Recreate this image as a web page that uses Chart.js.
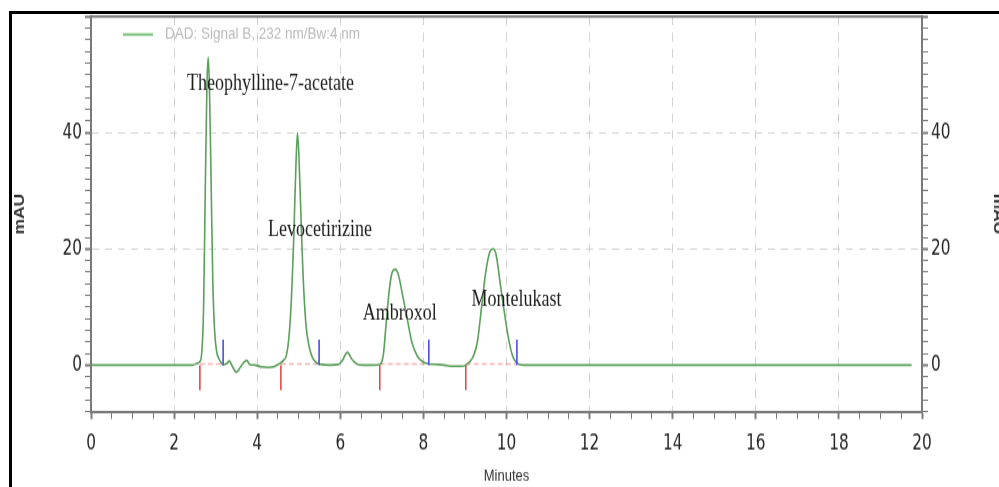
<!DOCTYPE html>
<html>
<head>
<meta charset="utf-8">
<script src="https://cdn.jsdelivr.net/npm/chart.js@4.4.1/dist/chart.umd.min.js"></script>
<style>
html,body{margin:0;padding:0;background:#fff;overflow:hidden;width:999px;height:487px;}
#frame{position:absolute;left:9px;top:11px;width:2000px;height:1000px;border-left:3px solid #000;border-top:3px solid #000;}
#wrap{position:absolute;left:0;top:0;width:1010px;height:390px;transform:scaleY(1.2487);transform-origin:0 0;}
</style>
</head>
<body>
<div id="frame"></div>
<div id="wrap"><canvas id="chart"></canvas></div>
<script>
// chromatogram trace (minutes, mAU)
const retentionTimes = [
  0, 2.45, 2.55, 2.62, 2.67, 2.71, 2.75, 2.79, 2.82, 2.85,
  2.89, 2.93, 2.97, 3.02, 3.1, 3.18, 3.27, 3.33, 3.4, 3.5,
  3.6, 3.68, 3.75, 3.82, 3.95, 4.1, 4.25, 4.4, 4.5, 4.57,
  4.63, 4.7, 4.76, 4.82, 4.88, 4.93, 4.97, 5.01, 5.06, 5.12,
  5.18, 5.25, 5.33, 5.43, 5.55, 5.75, 5.95, 6.05, 6.17, 6.28,
  6.4, 6.55, 6.8, 6.95, 7.0, 7.04, 7.09, 7.18, 7.25, 7.32,
  7.4, 7.5, 7.61, 7.72, 7.85, 8.0, 8.15, 8.35, 8.5, 8.7,
  8.9, 9.02, 9.1, 9.2, 9.3, 9.4, 9.5, 9.6, 9.67, 9.75,
  9.85, 9.94, 10.05, 10.15, 10.25, 10.4, 10.6, 19.75
];
const signalMau = [
  0, 0, 0.3, 0.6, 2.5, 10, 30, 48, 53, 48,
  32, 15, 6.5, 2.5, 0.8, 0.1, 0.3, 0.7, -0.2, -1.2,
  -0.3, 0.5, 0.8, 0.1, 0, -0.3, -0.4, -0.3, 0.1, 0.4,
  0.8, 1.6, 4.5, 11, 22, 34, 40, 35, 24, 13,
  6.5, 3.2, 1.3, 0.4, 0.1, 0, 0.1, 0.8, 2.2, 1.0,
  0.2, 0, 0, 0.1, 0.6, 2, 6, 13, 16, 16.5,
  15.5, 12, 8, 4, 1.6, 0.5, 0.2, 0.1, 0, -0.2,
  -0.2, 0, 0.5, 1.5, 4, 10, 16, 19.5, 20, 19,
  14, 9.5, 4.5, 1.5, 0.4, 0, 0, 0
];

// integration marks
const peakStarts = [2.62, 4.57, 6.95, 9.02];
const peakEnds = [3.18, 5.49, 8.13, 10.25];
const startMarkLow = -4.3;
const endMarkHigh = 4.4;
const baselineLevel = 0.2;

// peak annotations (anchor in minutes / mAU)
const peakNames = ['Theophylline-7-acetate', 'Levocetirizine', 'Ambroxol', 'Montelukast'];
const labelTimes = [4.32, 5.51, 7.43, 10.24];
const labelLevels = [47.3, 22.3, 7.9, 10.25];

const xMin = 0, xMax = 20, xStep = 0.5, xLabelEvery = 2;
const yMin = -8, yMax = 60, yStep = 2, yLabelEvery = 20;

const signalLabel = 'DAD: Signal B, 232 nm/Bw:4 nm';

const NARROW = '"Liberation Sans Narrow", "DejaVu Sans Condensed", "Liberation Sans", sans-serif';
const SANS = '"Liberation Sans", Arial, sans-serif';
const AXIS = '#7a7a7a';
const GRID = '#d2d2d2';

function vertMarks(times, from, to){
  const out = [];
  times.forEach(t => { out.push({x:t, y:from}, {x:t, y:to}, {x:t, y:NaN}); });
  return out;
}
function segs(starts, ends, level){
  const out = [];
  starts.forEach((t,i) => { out.push({x:t, y:level}, {x:ends[i], y:level}, {x:ends[i], y:NaN}); });
  return out;
}

const trace = retentionTimes.map((t,i) => ({x:t, y:signalMau[i]}));

const plotBox = {
  id: 'plotBox',
  afterDraw(chart){
    const {ctx, chartArea:a} = chart;
    ctx.save();
    ctx.strokeStyle = AXIS; ctx.lineWidth = 2;
    ctx.beginPath(); ctx.moveTo(a.left, a.top); ctx.lineTo(a.right+1, a.top); ctx.stroke();
    // legend inside the plot
    const ly = a.top + 14.4;
    ctx.strokeStyle = '#7cbf7c'; ctx.lineWidth = 2;
    ctx.beginPath(); ctx.moveTo(a.left+32, ly); ctx.lineTo(a.left+62, ly); ctx.stroke();
    ctx.fillStyle = '#b9b9b9';
    ctx.font = '13.5px ' + SANS;
    ctx.textAlign = 'left'; ctx.textBaseline = 'middle';
    ctx.fillText(chart.data.datasets[0].label, a.left+74, ly);
    ctx.restore();
  }
};

const peakLabels = {
  id: 'peakLabels',
  afterDatasetsDraw(chart){
    const {ctx, scales:{x, y}} = chart;
    ctx.save();
    ctx.font = '18px "Liberation Serif", "Times New Roman", serif';
    ctx.fillStyle = '#1e1e1e';
    ctx.textAlign = 'center';
    ctx.textBaseline = 'alphabetic';
    peakNames.forEach((name,i) => {
      ctx.fillText(name, x.getPixelForValue(labelTimes[i]), y.getPixelForValue(labelLevels[i]));
    });
    ctx.restore();
  }
};

function yAxis(pos, width){
  return {
    type: 'linear', position: pos, min: yMin, max: yMax,
    afterFit: s => { s.width = width; },
    ticks: {
      stepSize: yStep, autoSkip: false, padding: 3,
      font: {family: NARROW, size: 17}, color: '#262626',
      callback: v => (v % yLabelEvery === 0 && v < yMax ? v : '')
    },
    grid: {
      drawOnChartArea: pos === 'left',
      color: c => ((c.tick && (c.tick.value === 20 || c.tick.value === 40)) ? GRID : 'rgba(0,0,0,0)'),
      tickColor: AXIS, tickLength: 6,
      tickWidth: c => (c.tick && c.tick.value % yLabelEvery === 0 ? 2 : 1)
    },
    border: {color: AXIS, width: 2, dash: [7, 6]},
    title: {display: true, text: 'mAU', color: '#333', font: {family: SANS, size: 14, weight: 'bold'}, padding: pos === 'left' ? {top: 12, bottom: 0} : {top: 4, bottom: 0}}
  };
}

new Chart(document.getElementById('chart'), {
  type: 'line',
  data: {
    datasets: [
      {label: signalLabel, data: trace, borderColor: '#5a9f5a', borderWidth: 1.6, pointRadius: 0, cubicInterpolationMode: 'monotone', order: 1},
      {label: 'baseline', data: segs(peakStarts, peakEnds, baselineLevel), borderColor: 'rgba(240,120,120,0.55)', borderWidth: 1.4, borderDash: [5,3], pointRadius: 0, spanGaps: false, order: 2},
      {label: 'start', data: vertMarks(peakStarts, 0, startMarkLow), borderColor: '#e8474a', borderWidth: 1.6, pointRadius: 0, spanGaps: false, order: 0},
      {label: 'end', data: vertMarks(peakEnds, 0, endMarkHigh), borderColor: '#4b4bf0', borderWidth: 1.6, pointRadius: 0, spanGaps: false, order: 0}
    ]
  },
  options: {
    responsive: true, maintainAspectRatio: false, animation: false, devicePixelRatio: 1,
    layout: {padding: 0},
    plugins: {legend: {display: false}, tooltip: {enabled: false}},
    scales: {
      x: {
        type: 'linear', position: 'bottom', min: xMin, max: xMax,
        afterFit: s => { s.height = 60.4; },
        ticks: {
          stepSize: xStep, autoSkip: false, maxRotation: 0, padding: 10,
          font: {family: NARROW, size: 17}, color: '#262626',
          callback: v => (v % xLabelEvery === 0 ? v : '')
        },
        grid: {
          color: c => ((c.tick && c.tick.value % xLabelEvery === 0 && c.tick.value > xMin && c.tick.value < xMax) ? GRID : 'rgba(0,0,0,0)'),
          tickColor: AXIS, tickLength: 6,
          tickWidth: c => (c.tick && c.tick.value % xLabelEvery === 0 ? 2 : 1)
        },
        border: {color: AXIS, width: 2, dash: [7, 6]},
        title: {display: true, text: 'Minutes', color: '#333', font: {family: SANS, size: 13}, padding: {top: 0, bottom: 1}}
      },
      y: yAxis('left', 91),
      y2: yAxis('right', 88)
    }
  },
  plugins: [plotBox, peakLabels]
});
</script>
</body>
</html>
